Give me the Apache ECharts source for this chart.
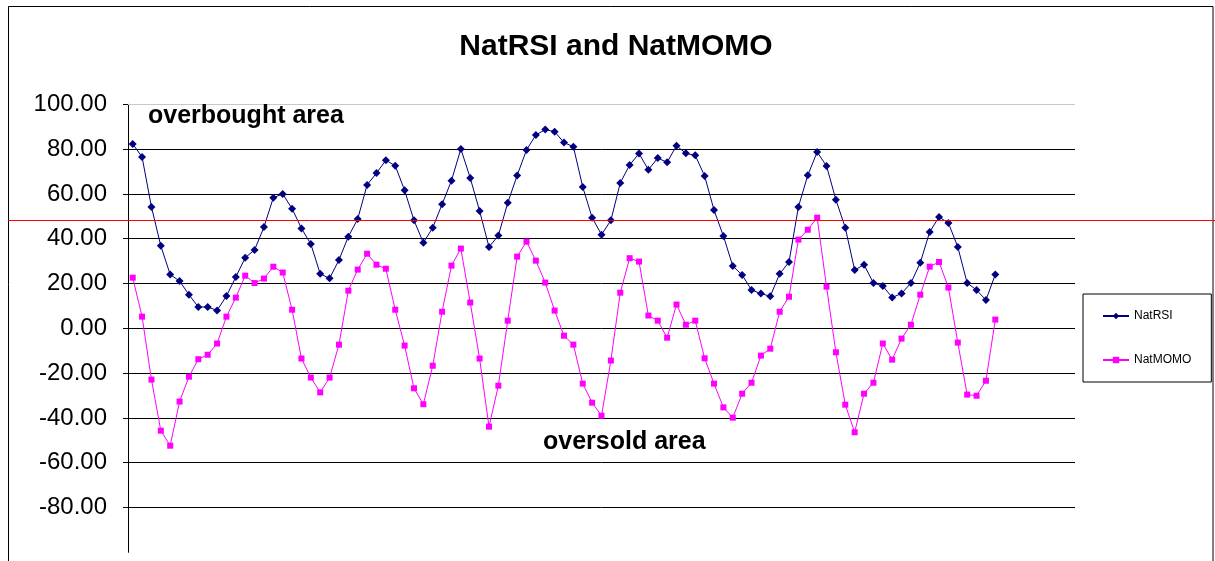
<!DOCTYPE html>
<html>
<head>
<meta charset="utf-8">
<script src="https://cdn.jsdelivr.net/npm/echarts@6/dist/echarts.min.js"></script>
<style>
html,body{margin:0;padding:0;background:#fff;}
#chart{width:1215px;height:561px;}
</style>
</head>
<body>
<div id="chart"></div>
<script>
// ---- data ----
const categoryCount = 101;
const categories = Array.from({length: categoryCount}, (_, i) => String(i + 1));
const natRSI = [
  82.3, 76.5, 54.2, 36.8, 24.0, 21.1, 15.0, 9.5, 9.5, 8.0,
  14.4, 22.9, 31.5, 35.0, 45.2, 58.3, 60.0, 53.4, 44.6, 37.6,
  24.3, 22.3, 30.5, 40.9, 48.8, 64.0, 69.3, 75.0, 72.6, 61.6,
  48.2, 38.2, 44.9, 55.4, 65.9, 80.1, 67.1, 52.4, 36.3, 41.4,
  56.0, 68.2, 79.6, 86.3, 88.7, 87.8, 82.9, 81.1, 63.1, 49.4,
  41.8, 48.2, 64.9, 72.9, 78.0, 70.8, 76.0, 74.1, 81.5, 78.1,
  77.2, 68.0, 52.8, 41.2, 27.8, 23.8, 17.1, 15.5, 14.3, 24.3,
  29.6, 54.2, 68.3, 78.7, 72.5, 57.4, 44.9, 26.0, 28.4, 20.2,
  18.9, 13.8, 15.5, 20.2, 29.3, 43.0, 49.7, 47.0, 36.3, 20.2,
  17.1, 12.6, 24.0
];
const natMOMO = [
  22.6, 5.2, -22.9, -45.7, -52.4, -32.7, -21.6, -13.8, -11.8, -6.8,
  5.2, 13.7, 23.5, 20.2, 22.2, 27.5, 24.9, 8.3, -13.5, -22.0,
  -28.6, -22.0, -7.3, 16.8, 26.2, 33.3, 28.4, 26.6, 8.3, -7.7,
  -26.8, -33.9, -16.7, 7.4, 28.0, 35.6, 11.5, -13.5, -43.9, -25.6,
  3.4, 32.0, 38.7, 30.2, 20.4, 7.9, -3.3, -7.3, -24.7, -33.2,
  -39.0, -14.4, 15.9, 31.3, 29.8, 5.7, 3.4, -4.2, 10.6, 1.6,
  3.4, -13.4, -24.7, -35.3, -39.9, -29.2, -24.3, -12.2, -9.1, 7.4,
  14.1, 39.6, 44.0, 49.4, 18.6, -10.7, -34.1, -46.4, -29.2, -24.3,
  -6.8, -14.0, -4.6, 1.6, 15.0, 27.5, 29.6, 18.2, -6.4, -29.6,
  -30.1, -23.4, 3.9
];
const threshold = 48.2;
const yMin = -100, yMax = 100, yStep = 20;
const titleText = 'NatRSI and NatMOMO';
const seriesNames = ['NatRSI', 'NatMOMO'];
const overboughtText = 'overbought area';
const oversoldText = 'oversold area';

const chart = echarts.init(document.getElementById('chart'));
const option = {
  animation: false,
  backgroundColor: '#fff',
  title: {
    text: titleText,
    left: 611,
    top: 27,
    textAlign: 'center',
    textStyle: {fontFamily: 'Liberation Sans, Arial, sans-serif', fontSize: 30, fontWeight: 'bold', color: '#000'}
  },
  legend: {
    orient: 'vertical',
    left: 1083,
    top: 294,
    itemWidth: 26,
    itemHeight: 8,
    itemGap: 32,
    padding: [16, 20, 16, 19],
    borderColor: '#000',
    borderWidth: 1,
    textStyle: {fontFamily: 'Liberation Sans, Arial, sans-serif', fontSize: 12, color: '#000'},
    data: seriesNames
  },
  grid: {left: 128, right: 140, top: 104.3, bottom: 8.7},
  xAxis: {
    type: 'category',
    data: categories,
    boundaryGap: true,
    axisLine: {show: false},
    axisTick: {show: false},
    axisLabel: {show: false},
    splitLine: {show: false}
  },
  yAxis: {
    type: 'value',
    min: yMin,
    max: yMax,
    interval: yStep,
    axisLine: {show: true, lineStyle: {color: '#000', width: 1}},
    axisTick: {show: true, length: 5, lineStyle: {color: '#000'}},
    axisLabel: {
      margin: 21,
      showMinLabel: false,
      fontFamily: 'Liberation Sans, Arial, sans-serif',
      fontSize: 24,
      color: '#000',
      formatter: v => v.toFixed(2)
    },
    splitLine: {show: true, showMinLine: false, showMaxLine: false, lineStyle: {color: '#000', width: 1}}
  },
  series: [
    {
      name: seriesNames[0],
      type: 'line',
      data: natRSI,
      symbol: 'diamond',
      symbolSize: 8,
      showAllSymbol: true,
      lineStyle: {color: '#000080', width: 1},
      itemStyle: {color: '#000080'},
      markLine: {
        silent: true,
        symbol: 'none',
        label: {show: false},
        lineStyle: {color: '#c8c8c8', type: 'solid', width: 1},
        data: [{yAxis: yMax}]
      }
    },
    {
      name: seriesNames[1],
      type: 'line',
      data: natMOMO,
      symbol: 'rect',
      symbolSize: 6,
      showAllSymbol: true,
      lineStyle: {color: '#ff00ff', width: 1},
      itemStyle: {color: '#ff00ff'}
    }
  ]
};
chart.setOption(option);

const yTh = chart.convertToPixel({yAxisIndex: 0}, threshold);
chart.setOption({
  graphic: [
    {
      type: 'rect',
      shape: {x: 8.5, y: 6.5, width: 1204.5, height: 700},
      style: {fill: 'none', stroke: '#000', lineWidth: 1},
      silent: true, z: 100
    },
    {
      type: 'line',
      shape: {x1: 8, y1: Math.round(yTh) + 0.5, x2: 1215, y2: Math.round(yTh) + 0.5},
      style: {stroke: '#ff0000', lineWidth: 1},
      silent: true, z: 100
    },
    {
      type: 'text',
      left: 148, top: 104,
      style: {text: overboughtText, fontFamily: 'Liberation Sans, Arial, sans-serif', fontSize: 25, fontWeight: 'bold', fill: '#000'},
      z: 101
    },
    {
      type: 'text',
      left: 543, top: 430,
      style: {text: oversoldText, fontFamily: 'Liberation Sans, Arial, sans-serif', fontSize: 25, fontWeight: 'bold', fill: '#000'},
      z: 101
    }
  ]
});
</script>
</body>
</html>
